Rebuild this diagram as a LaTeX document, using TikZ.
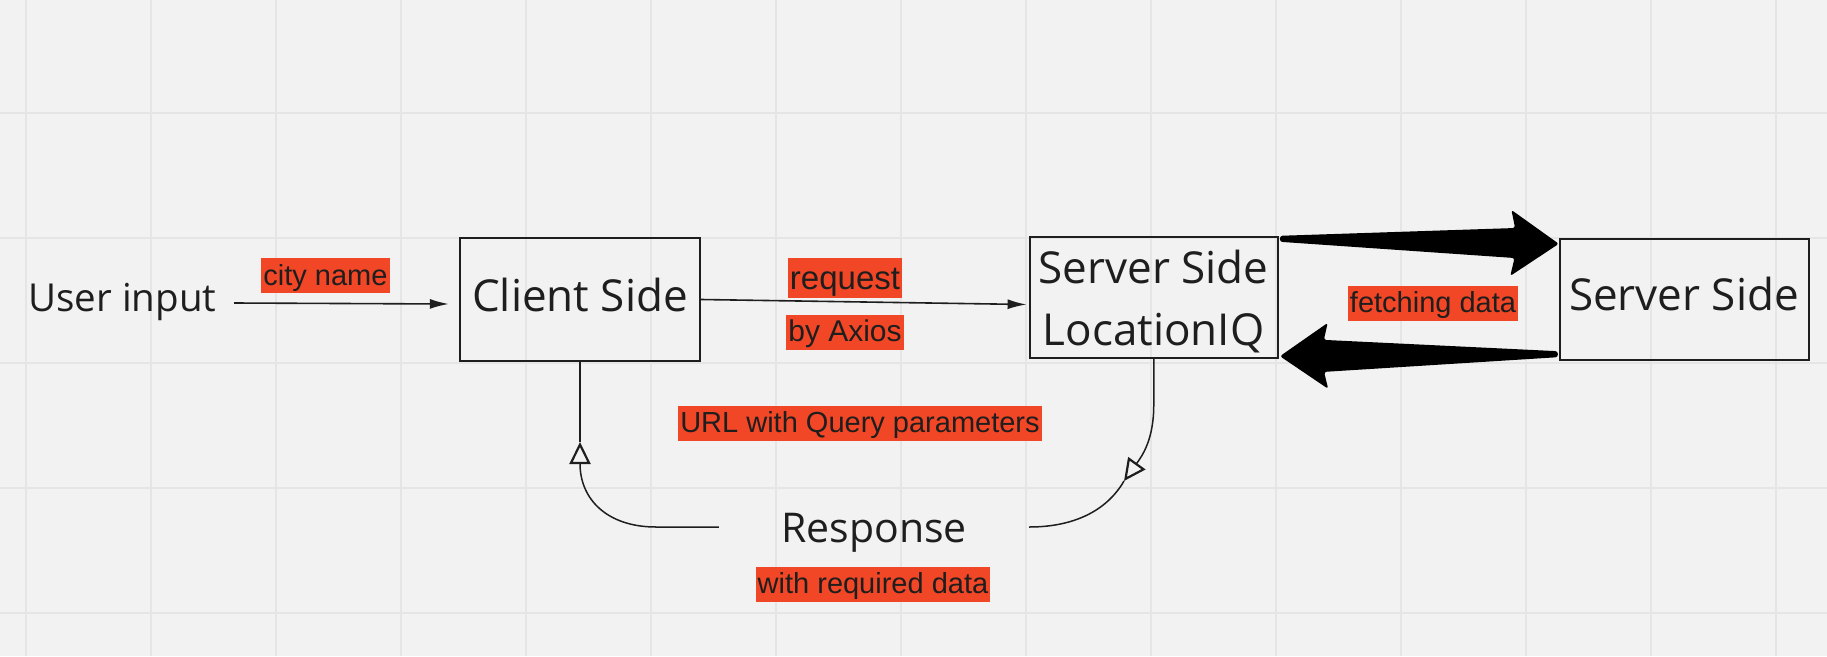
\documentclass[tikz,border=0pt]{standalone}
\usepackage{fontspec}
\setmainfont{Open Sans}
\newfontfamily\labfont{Liberation Sans}
\usetikzlibrary{arrows.meta,calc}
\definecolor{bg}{RGB}{242,242,242}
\definecolor{gridc}{RGB}{229,229,229}
\definecolor{lab}{RGB}{242,71,38}
\definecolor{ink}{RGB}{30,30,30}
\begin{document}
\begin{tikzpicture}[x=1pt,y=-1pt,
  box/.style={draw=ink,line width=2.4pt,inner sep=0pt,rectangle},
  big/.style={font=\fontsize{44}{53}\selectfont,text=ink,inner sep=0pt,anchor=base},
  tag/.style={fill=lab,text=ink,font=\labfont\fontsize{29}{35}\selectfont,
    inner xsep=2pt,inner ysep=1pt,text height=26pt,text depth=7pt},
  bigtag/.style={tag,font=\labfont\fontsize{33}{40}\selectfont,text height=30pt,text depth=8pt},
  gridline/.style={draw=gridc,line width=1.6pt},
  thinarrow/.style={draw=ink,line width=1.6pt,-{Latex[length=19pt,width=10pt]}},
  conn/.style={draw=ink,line width=1.5pt},
  openarrow/.style={conn,-{Triangle[open,length=22pt,width=21pt,line width=2.2pt]}},
  fat/.style={fill=black,rounded corners=2.5pt}]
\useasboundingbox (0,0) rectangle (1827,656);
\fill[bg] (0,0) rectangle (1827,656);
\foreach \gx in {26,151,...,1776} \draw[gridline] (\gx,0) -- (\gx,656);
\foreach \gy in {113,238,...,613} \draw[gridline] (0,\gy) -- (1827,\gy);

% boxes
\node[box,minimum width=240pt,minimum height=123pt] (client) at (580,299.5) {};
\node[box,minimum width=248pt,minimum height=121pt] (locq) at (1153.75,297.5) {};
\node[box,minimum width=249pt,minimum height=121pt] (srv) at (1684.5,299.5) {};

% texts
\node[big,font=\fontsize{38.5}{46}\selectfont] (usertxt) at (122.5,311) {User input};
\node[big] (clienttxt) at (580,311) {Client Side};
\node[big] (locqtxt1) at (1153.5,283) {Server Side};
\node[big] (locqtxt2) at (1153.5,345) {LocationIQ};
\node[big] (srvtxt) at (1684,310) {Server Side};
\node[big,font=\fontsize{41}{50}\selectfont,anchor=center,minimum width=310pt,
  text height=30pt,text depth=0pt] (resp) at (874,527) {Response};

% labels
\node[tag] (city) at (325.5,275.5) {city name};
\node[bigtag] (req) at (845,278) {request};
\node[tag,font=\labfont\fontsize{30}{36}\selectfont] (axios) at (845,332) {by Axios};
\node[tag] (fetch) at (1433,303) {fetching data};
\node[tag] (url) at (860,423) {URL with Query parameters};
\node[tag] (reqdata) at (873,584) {with required data};

% thin arrows
\coordinate (ustart) at (234,303);
\draw[thinarrow] (ustart) -- ($(client.west)+(-10,4.5)$);
\draw[thinarrow] (client.east) -- ($(locq.west)+(-2,7)$);

% response connectors
\coordinate (tipL) at (580,442);
\draw[openarrow] (resp.west) -- (656,527) .. controls (608,527) and (580,500) .. (tipL);
\draw[conn] (client.south) -- (tipL);
\coordinate (tipR) at (1124,481);
\draw[openarrow] (locq.south) -- (1153.75,405) .. controls (1153.75,440) and (1142,456) .. (tipR);
\draw[conn] (tipR) .. controls (1106,512) and (1072,527) .. (resp.east);

% fat arrows
\coordinate (ta) at ($(locq.north east)+(1,3)$);
\coordinate (tb) at ($(srv.north west)+(0,6)$);
\coordinate (tbh) at ($(tb)!48pt!(ta)$);
\coordinate (tbn) at ($(tb)!44pt!(ta)$);
\fill[fat] ($(ta)!3pt!90:(tb)$) -- ($(tbn)!15pt!90:(tb)$) -- ($(tbh)!33pt!90:(tb)$) -- (tb)
  -- ($(tbh)!33pt!-90:(tb)$) -- ($(tbn)!15pt!-90:(tb)$) -- ($(ta)!3pt!-90:(tb)$) -- cycle;
\coordinate (ba) at ($(srv.south west)+(-1,-7)$);
\coordinate (bb) at ($(locq.south east)+(1,-3)$);
\coordinate (bbh) at ($(bb)!48pt!(ba)$);
\coordinate (bbn) at ($(bb)!44pt!(ba)$);
\fill[fat] ($(ba)!3pt!90:(bb)$) -- ($(bbn)!16pt!90:(bb)$) -- ($(bbh)!33pt!90:(bb)$) -- (bb)
  -- ($(bbh)!33pt!-90:(bb)$) -- ($(bbn)!16pt!-90:(bb)$) -- ($(ba)!3pt!-90:(bb)$) -- cycle;
\end{tikzpicture}
\end{document}
